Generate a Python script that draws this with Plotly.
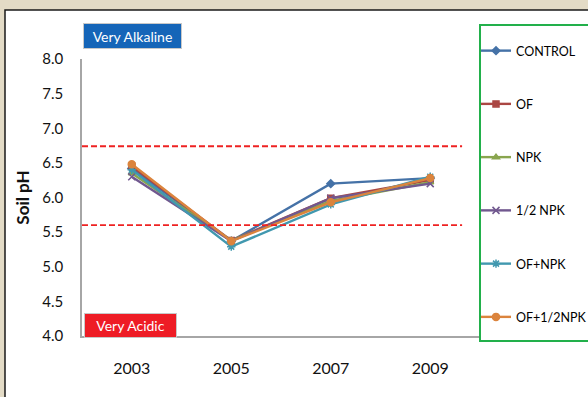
import plotly.graph_objects as go

years = ["2003", "2005", "2007", "2009"]
control = [6.42, 5.37, 6.20, 6.28]
of = [6.45, 5.38, 5.99, 6.25]
npk = [6.35, 5.38, 5.95, 6.22]
half_npk = [6.30, 5.37, 5.99, 6.20]
of_npk = [6.40, 5.29, 5.90, 6.30]
of_half_npk = [6.48, 5.37, 5.93, 6.28]

upper_limit = 6.74
lower_limit = 5.60

series = [
    ("CONTROL", control, "#4572A7", "diamond", 6),
    ("OF", of, "#AA4643", "square", 6),
    ("NPK", npk, "#89A54E", "triangle-up", 6),
    ("1/2 NPK", half_npk, "#71588F", "x-thin", 7),
    ("OF+NPK", of_npk, "#4198AF", "asterisk", 7),
    ("OF+1/2NPK", of_half_npk, "#DB843D", "circle", 7),
]

fig = go.Figure()
for i, (name, vals, col, sym, sz) in enumerate(series):
    fig.add_trace(go.Scatter(
        x=years, y=vals, name=name, mode="lines+markers",
        line=dict(color=col, width=2.4),
        marker=dict(symbol=sym, size=sz, color=col, line=dict(color=col, width=1.5)),
        legendgroup=f"g{i}",
    ))

W, H = 588, 397
L, R, T, B = 82, 480, 59, 336
pw, ph = R - L, B - T
def px(x): return (x - L) / pw
def py(y): return (B - y) / ph

shapes = [
    dict(type="rect", xref="paper", yref="paper", x0=px(5), x1=px(600), y0=py(10), y1=py(410),
         fillcolor="white", line=dict(color="#1a1a1a", width=1.5), layer="below"),
    dict(type="rect", xref="paper", yref="paper", x0=px(480), x1=px(600), y0=py(25), y1=py(341),
         fillcolor="rgba(0,0,0,0)", line=dict(color="#22B04B", width=2)),
    dict(type="line", xref="x", yref="y", x0=-0.5, x1=3.32, y0=upper_limit, y1=upper_limit,
         line=dict(color="#EE2222", width=1.8, dash="6px,3px")),
    dict(type="line", xref="x", yref="y", x0=-0.5, x1=3.32, y0=lower_limit, y1=lower_limit,
         line=dict(color="#EE2222", width=1.8, dash="6px,3px")),
]

annotations = [
    dict(text="Very Alkaline", xref="paper", yref="paper", x=px(132.5), y=py(36),
         xanchor="center", yanchor="middle", showarrow=False,
         font=dict(family="Lato", size=14, color="white"),
         bgcolor="#1565B8", bordercolor="#C8C8C8", borderwidth=1, borderpad=2,
         width=93, height=20),
    dict(text="Very Acidic", xref="paper", yref="paper", x=px(130.5), y=py(325.5),
         xanchor="center", yanchor="middle", showarrow=False,
         font=dict(family="Lato", size=14, color="white"),
         bgcolor="#EE1C25", bordercolor="#C8C8C8", borderwidth=1, borderpad=2,
         width=87, height=19),
]

fig.update_layout(
    width=W, height=H,
    margin=dict(l=L, r=W - R, t=T, b=H - B, pad=0, autoexpand=False),
    paper_bgcolor="#E3DBC6",
    plot_bgcolor="white",
    font=dict(family="Lato", color="#1a1a1a"),
    shapes=shapes,
    annotations=annotations,
    showlegend=True,
    legend=dict(
        x=px(476), y=py(36), xanchor="left", yanchor="top",
        bgcolor="rgba(0,0,0,0)", borderwidth=0,
        font=dict(family="Lato", size=12.5, color="#000"),
        traceorder="grouped", tracegroupgap=34, itemwidth=30,
        maxheight=1,
    ),
    xaxis=dict(
        type="category", range=[-0.5, 3.5], showgrid=False, zeroline=False,
        showline=True, linecolor="#A6A6A6", linewidth=1.5,
        ticks="outside", ticklen=17, tickcolor="rgba(0,0,0,0)",
        tickfont=dict(family="Lato", size=16, color="#111"),
    ),
    yaxis=dict(
        range=[4.0, 8.0], dtick=0.5, tickformat=".1f", showgrid=False, zeroline=False,
        showline=True, linecolor="#A6A6A6", linewidth=1.5,
        ticks="outside", ticklen=14, tickcolor="rgba(0,0,0,0)",
        tickfont=dict(family="Lato", size=15, color="#111"),
        title=dict(text="<b>Soil pH</b>", font=dict(family="Lato", size=17, color="#111"), standoff=8),
    ),
)

fig.write_html("out.html")
